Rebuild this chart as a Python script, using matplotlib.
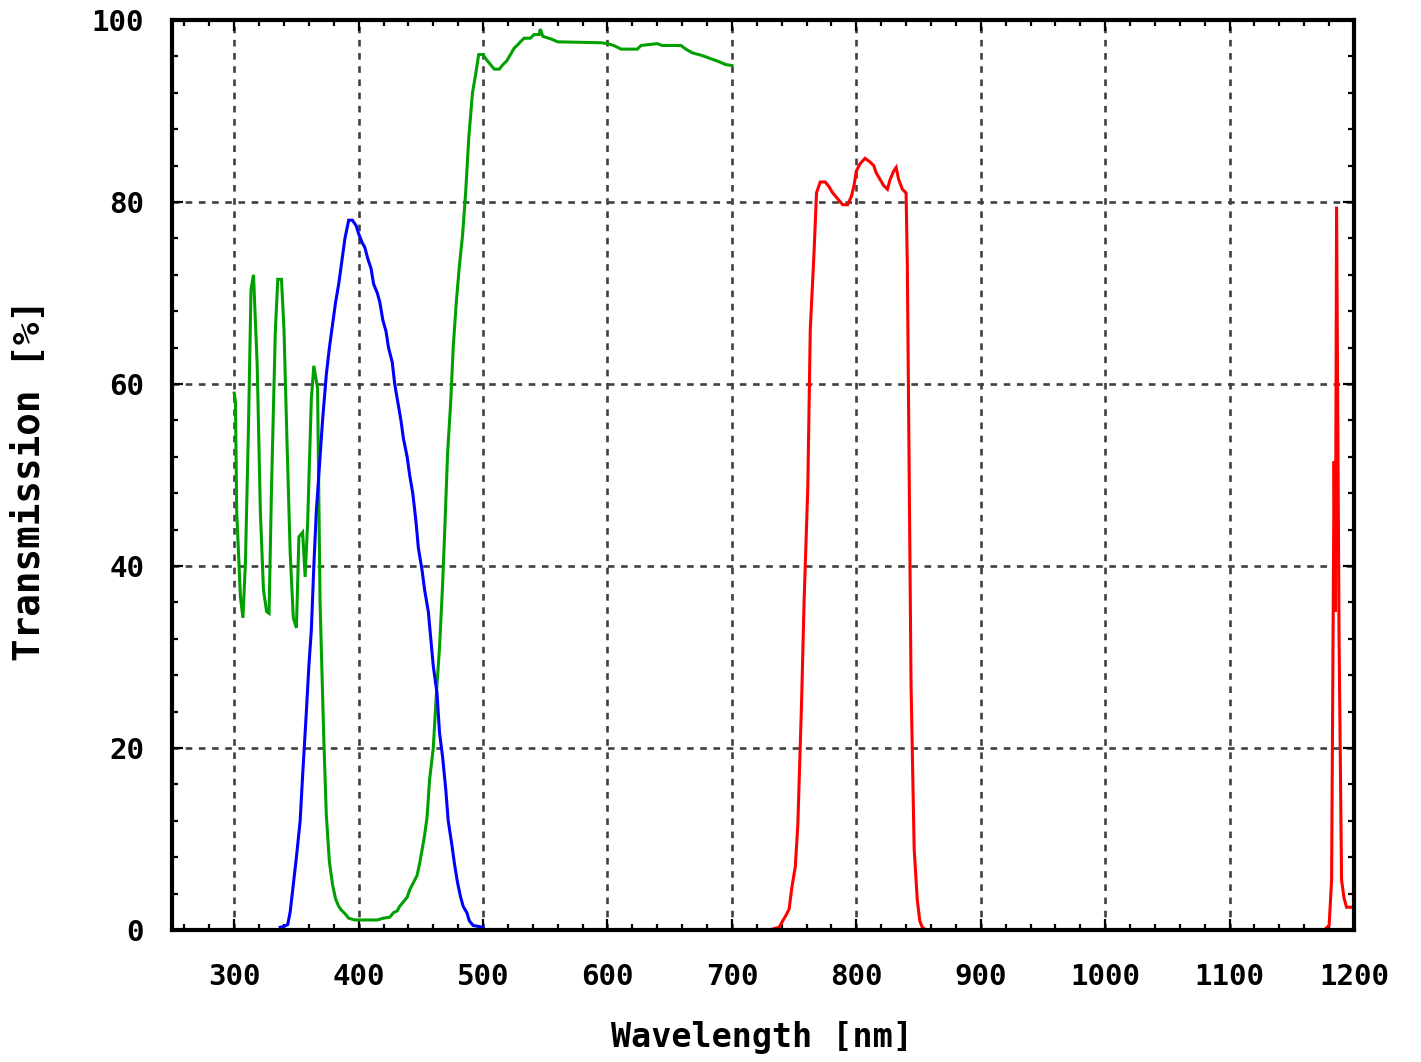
import matplotlib
matplotlib.use("Agg")
import matplotlib.pyplot as plt
from matplotlib.ticker import MultipleLocator

# ---- data ----
green_nm = [300, 301, 302, 305, 307, 309, 311.5, 313.5, 315.5, 318.5, 321, 323.5, 326, 328,
            330, 333, 335, 338, 340, 342.5, 345, 347.5, 350, 352, 355, 357, 359, 362, 364,
            367, 369, 372, 374, 376.5, 379, 381.5, 384, 386, 389, 392, 397, 415, 420, 425,
            428, 431, 433, 436, 439, 441, 444, 447, 449, 451, 453, 455, 457, 460, 462.5,
            465, 467.5, 469.5, 471.5, 474, 476, 478.5, 481, 483.5, 486, 488.5, 491.5, 494,
            496.5, 500, 503, 506, 509, 513, 516, 519, 522, 525, 528, 530, 533, 538, 541,
            545, 546, 548, 555, 560, 595, 600, 605, 611, 624, 627, 640, 644, 659, 663, 668,
            676, 684, 690, 695, 700]
green_t = [59, 58, 46, 36.6, 34.3, 40.3, 55.5, 70.4, 72, 62, 46, 37.4, 35, 34.8,
           48.7, 65.6, 71.5, 71.5, 66, 53.3, 41.4, 34.3, 33.2, 43.2, 43.7, 38.8, 44.7, 58.4, 62,
           59.5, 36, 21, 12.7, 7.5, 5, 3.4, 2.6, 2.2, 1.8, 1.3, 1.1, 1.1, 1.3, 1.4,
           1.9, 2.1, 2.6, 3.1, 3.6, 4.4, 5.2, 6, 7.3, 8.8, 10.4, 12.4, 16.5, 20, 26,
           31, 38, 45, 52.4, 58, 64, 69, 73, 76.3, 81, 87, 92, 94,
           96.2, 96.2, 95.6, 95.1, 94.6, 94.6, 95.1, 95.5, 96.2, 96.9, 97.3, 97.6, 98, 98, 98.4,
           98.4, 99, 98.2, 97.9, 97.6, 97.5, 97.4, 97.2, 96.8, 96.8, 97.2, 97.4, 97.2, 97.2, 96.8, 96.4,
           96.1, 95.7, 95.4, 95.1, 95.0]

blue_nm = [337, 340, 343, 345, 347.5, 350, 353, 355, 358, 360, 362, 364, 366, 369, 371,
           374, 376.5, 379, 381.5, 384, 386, 389, 392, 395, 398, 400, 403, 405, 407.5, 410,
           412, 415, 417, 419.5, 422, 424, 427, 429, 431.5, 434, 436, 439, 441, 443.5, 446,
           448, 451, 453, 456, 458, 460, 463, 465, 467.5, 470, 472, 475, 477, 479.5, 482,
           484, 487, 489, 492, 500]
blue_t = [0.3, 0.4, 0.6, 2, 5, 8, 12, 17, 24, 29, 33, 40, 46, 52, 56,
          61, 64, 66.5, 69, 71, 73, 76, 78, 78, 77.4, 76.5, 75.5, 75, 73.7, 72.7,
          71, 70, 69, 67, 65.8, 64, 62.4, 60, 58, 56, 54, 52, 50, 48, 45,
          42, 39.5, 37.4, 35, 32, 29, 26, 21.7, 19, 15.5, 12, 9.3, 7.3, 5.2, 3.6,
          2.6, 1.9, 1, 0.5, 0.3]

red_nm = [730, 738, 740, 743, 746, 748, 751, 753, 756, 758, 761, 763, 766, 768, 771, 775,
          778, 781, 783.5, 786, 789, 793, 796, 798, 800, 803, 807, 811, 814, 816, 819, 822,
          825, 827, 830, 832, 834, 837, 840, 841, 844, 846.5, 849, 851, 853, 856,
          1176, 1180, 1182, 1184, 1185, 1186, 1188, 1190, 1192, 1194, 1200]
red_t = [0, 0.3, 0.8, 1.5, 2.3, 4.5, 7, 11.6, 25, 36, 48.6, 66, 74.4, 81, 82.2, 82.2,
         81.7, 81, 80.6, 80.2, 79.7, 79.7, 80.6, 81.7, 83.4, 84.2, 84.8, 84.4, 84, 83.2, 82.5, 81.8,
         81.4, 82.4, 83.4, 83.8, 82.5, 81.4, 81, 73, 26.8, 8.9, 3.3, 1, 0.3, 0,
         0, 0.5, 5.5, 51.5, 35, 79.5, 32, 5.5, 3.5, 2.5, 2.5]

x_ticks = [300, 400, 500, 600, 700, 800, 900, 1000, 1100, 1200]
y_ticks = [0, 20, 40, 60, 80, 100]

# ---- figure ----
fig = plt.figure(figsize=(14.21, 10.62), dpi=100)
ax = fig.add_axes([172 / 1421, 1 - 930 / 1062, (1354 - 172) / 1421, (930 - 20) / 1062])

lw = 2.2
ax.plot(green_nm, green_t, color="#00a000", lw=lw, solid_joinstyle="miter", zorder=2)
ax.plot(blue_nm, blue_t, color="#0000ff", lw=lw, solid_joinstyle="miter", zorder=2)
ax.plot(red_nm, red_t, color="#ff0000", lw=lw, solid_joinstyle="miter", zorder=2)

ax.set_xlim(250, 1200)
ax.set_ylim(0, 100)
ax.set_xticks(x_ticks)
ax.set_yticks(y_ticks)
ax.xaxis.set_minor_locator(MultipleLocator(20))
ax.yaxis.set_minor_locator(MultipleLocator(4))

ax.grid(True, which="major", color="#404040", lw=1.9, linestyle=(0, (2.5, 2.5)))
ax.set_axisbelow(True)

for s in ax.spines.values():
    s.set_linewidth(3.0)
    s.set_color("black")
    s.set_zorder(5)

font = "DejaVu Sans Mono"
ax.tick_params(which="both", direction="in", top=True, right=True, width=1.6, color="black")
ax.tick_params(which="major", length=8)
ax.tick_params(which="minor", length=4)
ax.tick_params(axis="x", which="major", pad=24)
ax.tick_params(axis="y", which="major", pad=20)

for lab in ax.get_xticklabels():
    lab.set_fontfamily(font)
    lab.set_fontweight("bold")
    lab.set_fontsize(21)
for lab in ax.get_yticklabels():
    lab.set_fontfamily(font)
    lab.set_fontweight("bold")
    lab.set_fontsize(21)

fig.text(762 / 1421, 1 - 1038 / 1062, "Wavelength [nm]", ha="center", va="center",
         fontfamily=font, fontweight="bold", fontsize=24)
fig.text(30 / 1421, 1 - 480 / 1062, "Transmission [%]", ha="center", va="center",
         rotation=90, fontfamily=font, fontweight="bold", fontsize=27)

fig.savefig("out.png", dpi=100, facecolor="white")
